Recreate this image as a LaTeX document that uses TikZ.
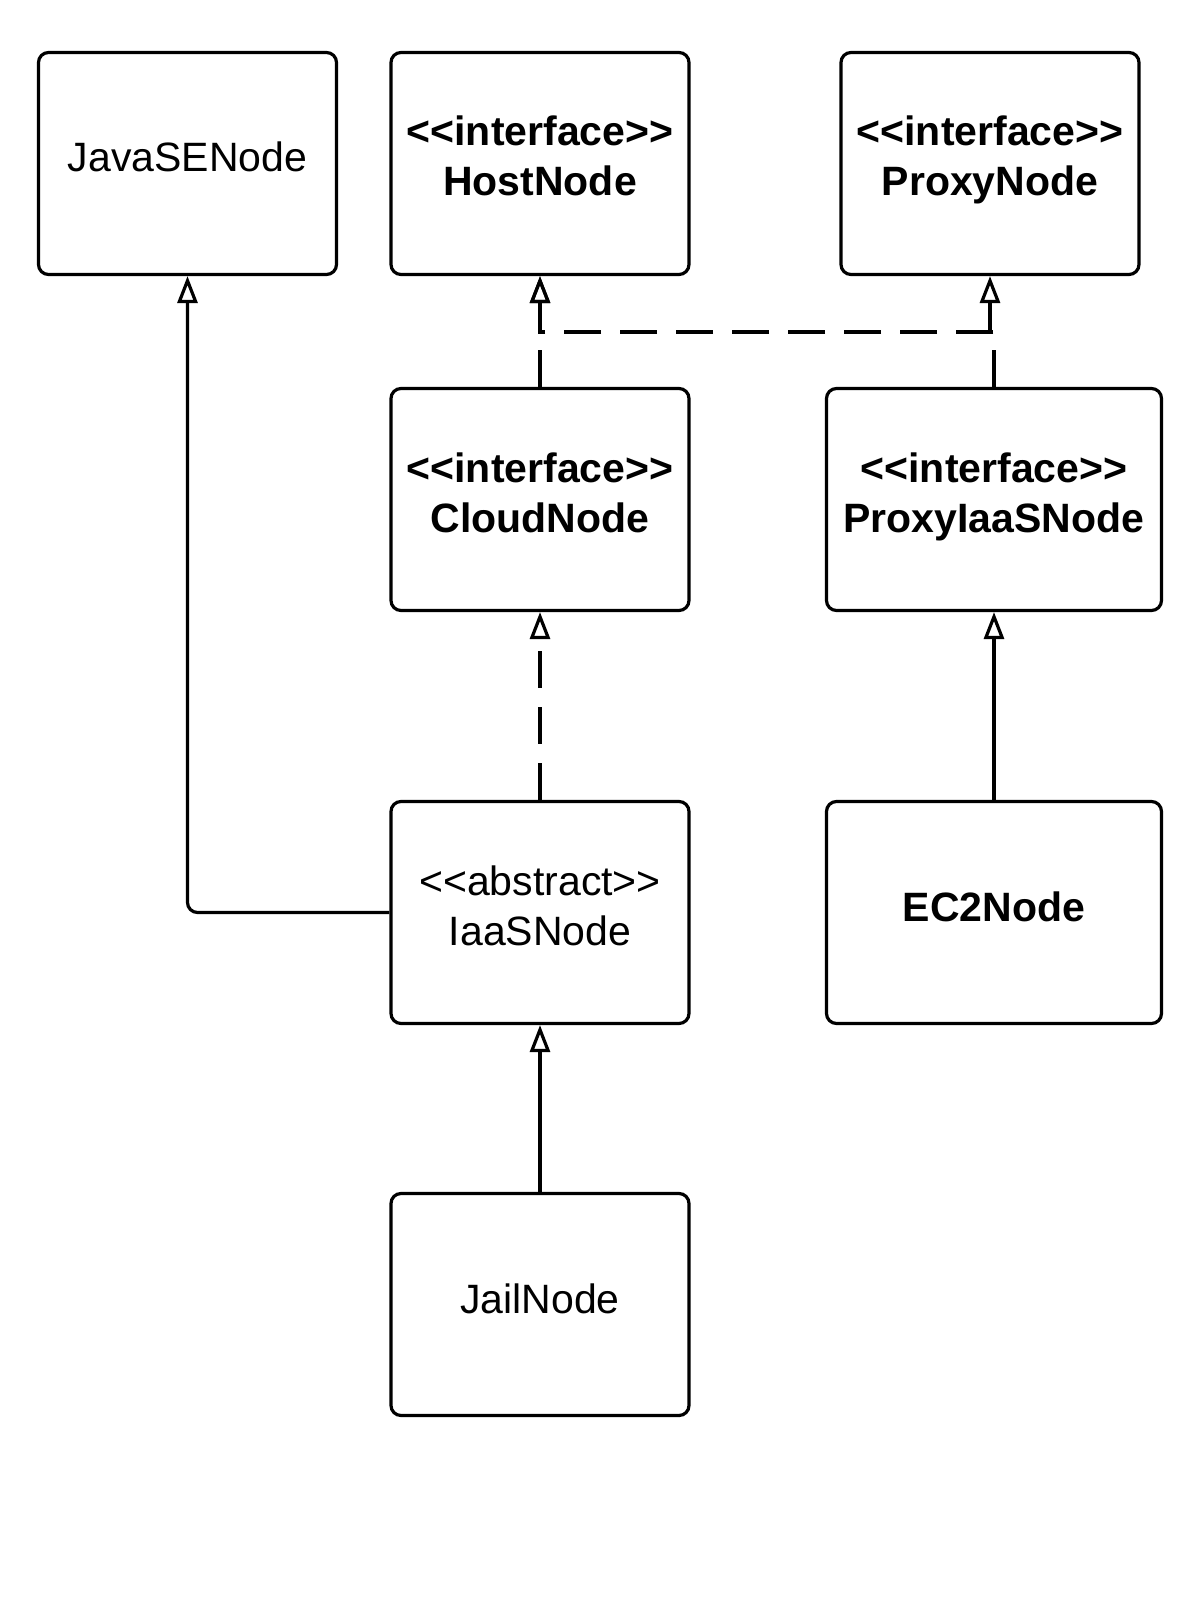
\documentclass[tikz,border=0pt]{standalone}
\usepackage{fontspec}
\setmainfont{Liberation Sans}
\usetikzlibrary{arrows.meta}
\newcommand\umlopen{<\kern0pt<}
\newcommand\umlclose{>\kern0pt>}
\tikzset{
  umlbox/.style={draw, line width=3.2pt, rounded corners=10pt,
    minimum width=298pt, minimum height=222pt, inner sep=0pt, align=center,
    font=\fontsize{41pt}{50pt}\selectfont},
  boldbox/.style={umlbox, font=\fontsize{41pt}{50pt}\selectfont\bfseries},
  wide/.style={minimum width=335pt},
  oneline/.style={text height=30pt, text depth=13pt},
  twoline/.style={text height=80pt, text depth=15pt},
  inherit/.style={line width=3.2pt, -{Triangle[open, length=27pt, width=20pt]}},
  realize/.style={inherit, dash pattern=on 37pt off 19pt},
}
\begin{document}
\begin{tikzpicture}[x=1pt,y=-1pt]
\useasboundingbox (0,0) rectangle (1188,1605);
\node[umlbox, oneline] (java) at (187.5,163.5) {JavaSENode};
\node[boldbox, twoline] (host) at (540,163.5) {\umlopen interface\umlclose\\HostNode};
\node[boldbox, twoline] (proxy) at (990,163.5) {\umlopen interface\umlclose\\ProxyNode};
\node[boldbox, twoline] (cloud) at (540,499.5) {\umlopen interface\umlclose\\CloudNode};
\node[boldbox, twoline, wide] (pias) at (994,499.5) {\umlopen interface\umlclose\\ProxyIaaSNode};
\node[umlbox, twoline] (iaas) at (540,912.5) {\umlopen abstract\umlclose\\IaaSNode};
\node[boldbox, oneline, wide] (ec2) at (994,912.5) {EC2Node};
\node[umlbox, oneline] (jail) at (540,1304.5) {JailNode};

\draw[inherit, rounded corners=10pt] (iaas.west) -| (java.south);
\draw[realize] (iaas.north) -- (cloud.south);
\draw[inherit] (jail.north) -- (iaas.south);
\draw[inherit] (ec2.north) -- (pias.south);
\draw[realize] (cloud.north) -- (host.south);
\draw[realize] (pias.north) -- ++(0,-55) -| (proxy.south);
\draw[realize] (pias.north) -- ++(0,-55) -| (host.south);
\end{tikzpicture}
\end{document}
